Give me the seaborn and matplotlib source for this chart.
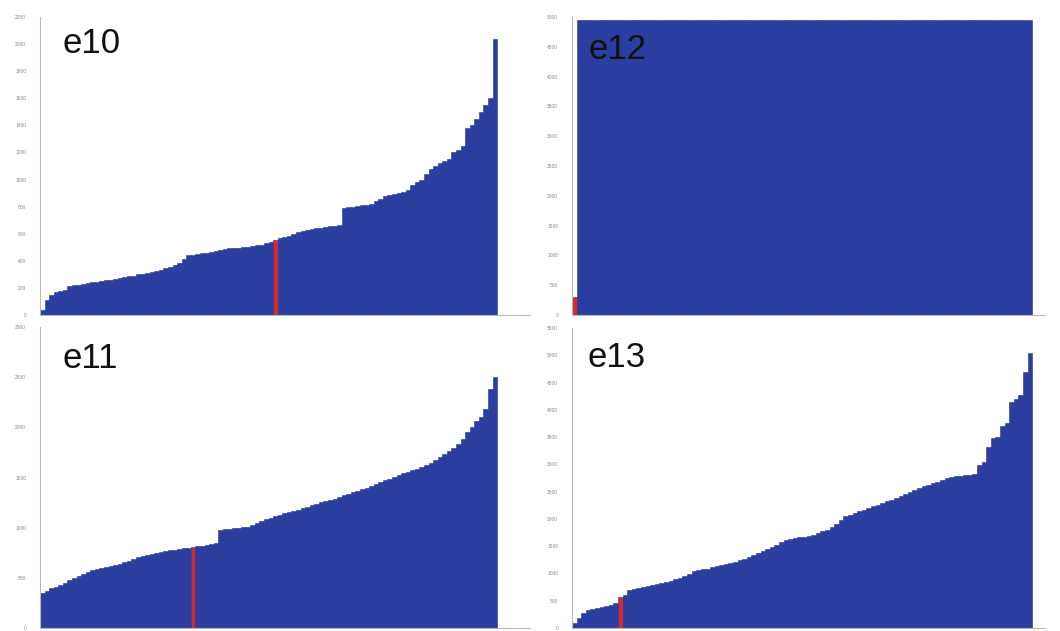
import matplotlib
matplotlib.use("Agg")
import matplotlib.pyplot as plt
import seaborn as sns
import numpy as np

# sorted values per sample, one bar each
e10_vals = [40, 110, 150, 170, 175, 185, 215, 220, 225, 230,
            235, 240, 245, 250, 255, 262, 268, 275, 280, 285,
            290, 300, 305, 312, 318, 325, 335, 345, 355, 370,
            385, 410, 440, 445, 450, 455, 460, 465, 470, 480,
            490, 492, 495, 498, 500, 505, 510, 515, 520, 530,
            540, 555, 565, 575, 585, 595, 610, 620, 630, 635,
            640, 645, 650, 655, 660, 665, 790, 795, 800, 805,
            810, 815, 820, 840, 860, 880, 885, 890, 900, 910,
            920, 960, 980, 1000, 1040, 1080, 1100, 1120, 1140, 1150,
            1200, 1220, 1250, 1380, 1400, 1450, 1500, 1550, 1600, 2040]
e11_vals = [350, 370, 400, 410, 430, 450, 480, 500, 520, 540,
            560, 580, 590, 600, 610, 620, 630, 640, 655, 670,
            690, 705, 720, 730, 740, 750, 758, 765, 775, 782,
            790, 795, 800, 810, 815, 820, 830, 840, 850, 980,
            985, 990, 995, 1000, 1005, 1010, 1030, 1050, 1070, 1085,
            1100, 1115, 1130, 1145, 1160, 1170, 1180, 1195, 1210, 1225,
            1240, 1255, 1265, 1275, 1290, 1310, 1325, 1340, 1355, 1370,
            1385, 1400, 1420, 1440, 1460, 1475, 1490, 1505, 1520, 1540,
            1555, 1570, 1580, 1600, 1620, 1645, 1670, 1700, 1730, 1760,
            1790, 1830, 1880, 1950, 2000, 2060, 2100, 2180, 2380, 2500]
# e12: every bar runs off the top of the axis except the first one
e12_vals = [300] + [4950] * 99
e13_vals = [90, 180, 280, 330, 350, 370, 390, 410, 430, 460,
            560, 600, 690, 710, 730, 750, 770, 790, 810, 830,
            850, 870, 890, 920, 950, 990, 1050, 1060, 1075, 1090,
            1110, 1130, 1150, 1170, 1190, 1210, 1240, 1270, 1300, 1340,
            1380, 1420, 1450, 1490, 1530, 1570, 1610, 1640, 1650, 1660,
            1670, 1690, 1710, 1740, 1770, 1800, 1850, 1900, 1980, 2050,
            2080, 2110, 2140, 2170, 2200, 2230, 2260, 2290, 2320, 2350,
            2380, 2420, 2450, 2490, 2530, 2570, 2600, 2630, 2650, 2680,
            2720, 2750, 2770, 2780, 2790, 2800, 2810, 2820, 2990, 3050,
            3320, 3480, 3500, 3700, 3760, 4150, 4200, 4280, 4700, 5050]

# index of the highlighted (red) sample in each panel
red_idx = {"e10": 51, "e11": 33, "e12": 0, "e13": 10}

e10_ticks = list(range(0, 2201, 200))
e11_ticks = list(range(0, 3001, 500))
e12_ticks = list(range(0, 5001, 500))
e13_ticks = list(range(0, 5501, 500))

BLUE = "#2a3ea2"
EDGE = "#22348f"
RED = "#d42a2e"

sns.set_style("white")
plt.rcParams["font.family"] = ["Liberation Sans", "DejaVu Sans"]

fig = plt.figure(figsize=(10.6, 6.31), dpi=100)
W, H = 1060, 631


def axes_px(x0, y0, x1, y1):
    return fig.add_axes([x0 / W, 1 - y1 / H, (x1 - x0) / W, (y1 - y0) / H])


panels = [
    ("e10", e10_vals, e10_ticks, axes_px(40, 17, 530, 315), 106.7, (0.045, 0.879)),
    ("e12", e12_vals, e12_ticks, axes_px(572, 17, 1045, 315), 102.3, (0.034, 0.86)),
    ("e11", e11_vals, e11_ticks, axes_px(40, 327, 530, 628), 106.7, (0.045, 0.864)),
    ("e13", e13_vals, e13_ticks, axes_px(572, 328, 1045, 628), 102.3, (0.032, 0.87)),
]

for name, vals, ticks, ax, xmax, (tx, ty) in panels:
    idx = list(range(len(vals)))
    colors = [RED if i == red_idx[name] else BLUE for i in idx]
    sns.barplot(x=idx, y=vals, hue=idx, palette=colors, legend=False,
                width=1.0, saturation=1, edgecolor=EDGE, linewidth=0.4, ax=ax)
    ax.set_xlim(-0.5, xmax)
    ax.set_ylim(0, ticks[-1])
    ax.set_yticks(ticks)
    ax.set_yticklabels([str(t) for t in ticks], fontsize=3.5, color="#8a8a8a")
    ax.set_xticks([])
    ax.tick_params(axis="y", length=2, width=0.5, color="#b0b0b0", pad=8)
    for s in ["top", "right"]:
        ax.spines[s].set_visible(False)
    for s in ["left", "bottom"]:
        ax.spines[s].set_color("#b8b8b8")
        ax.spines[s].set_linewidth(0.8)
    ax.text(tx, ty, name, transform=ax.transAxes, fontsize=25,
            color="#111111", va="baseline", ha="left")

fig.savefig("out.png", dpi=100)
